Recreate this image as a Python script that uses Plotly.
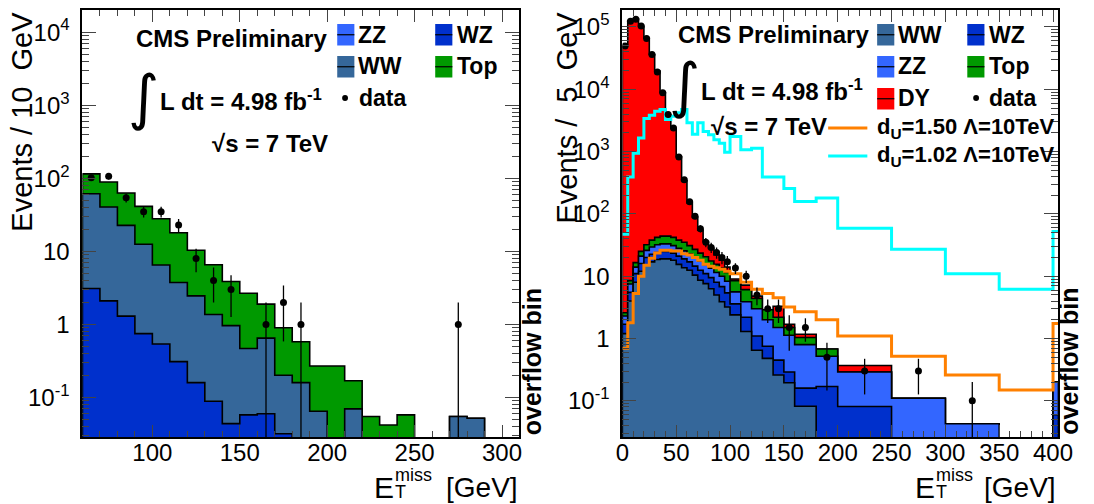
import numpy as np
import plotly.graph_objects as go

W, H = 1094, 504

# ---------------- left panel : 10 GeV bins, 60 - 310 GeV ----------------
left_edges = list(range(60, 320, 10))
left_zz = [0.0] * 25
left_wz = [3.1, 2.1, 1.3, 0.75, 0.54, 0.31, 0.16, 0.089, 0.044, 0.058, 0.06, 0.032,
           0, 0, 0, 0, 0, 0, 0, 0, 0, 0, 0, 0, 0]
left_ww = [58.5, 38.4, 21.4, 11.8, 5.96, 3.44, 2.3, 1.28, 0.92, 0.41, 0.59, 0.17,
           0.16, 0.065, 0, 0.07, 0, 0, 0, 0, 0, 0.055, 0.052, 0, 0]
left_top = [53.4, 48.5, 40.3, 28.7, 21.5, 14.2, 7.9, 5.2, 2.9, 2.2, 1.25, 0.7,
            0.42, 0.205, 0.27, 0.1, 0.055, 0.042, 0.058, 0, 0, 0, 0, 0, 0]
left_data = [102, 107, 54, 35, 35, 23, 8, 4, 3, 0, 1, 2, 1, 0, 0, 0, 0, 0, 0, 0, 0, 1, 0, 0, 0]

# ---------------- right panel : variable bins, normalised to 5 GeV ----------------
right_edges = [0, 5, 10, 15, 20, 25, 30, 35, 40, 45, 50, 55, 60, 65, 70, 75, 80, 85, 90, 95, 100,
               110, 120, 130, 140, 150, 160, 180, 200, 250, 300, 350, 400, 405]
right_ww = [1.2, 4.0, 8.0, 12, 15, 17, 18.5, 19, 19, 18, 15.5, 13.7, 12.5, 10.4, 8.6, 7.6, 6.3,
            5.0, 3.9, 3.2, 2.4, 1.3, 0.65, 0.48, 0.26, 0.195, 0.082, 0, 0, 0, 0, 0, 0]
right_wz = [0.5, 1.5, 3.0, 4, 5, 5.5, 5.5, 6, 6, 5.5, 5.5, 5.3, 4.5, 4.1, 3.9, 3.4, 3.2,
            3.0, 2.9, 2.2, 1.2, 0.9, 0.45, 0.27, 0.19, 0.095, 0.078, 0.17, 0.081, 0, 0, 0, 0.06]
right_zz = [0.6, 2.0, 3.0, 5, 6, 7, 8, 8, 8, 7.5, 7, 6.5, 6, 5.5, 5, 4.5, 4,
            3.5, 3.2, 2.9, 2.0, 1.7, 1.9, 1.25, 1.05, 0.84, 0.64, 0.35, 0.209, 0.11, 0.043, 0, 0.14]
right_top = [0.3, 1.0, 2.5, 4, 6, 8.5, 10, 11, 11, 11, 10, 9.5, 8, 7, 6, 5, 4,
             4.0, 3.5, 3.2, 2.9, 2.2, 1.4, 0.9, 0.7, 0.37, 0.24, 0.16, 0, 0, 0, 0, 0]
right_dy = [50000, 125000, 135000, 102000, 66000, 36000, 19500, 8750, 3860, 2310, 790, 305, 119,
            61, 31.5, 15.5, 10.5, 6.5, 4.5, 2.5, 0.5, 1.1, 0.4, 0, 1.1, 0.2, 0.13, 0, 0.08, 0, 0, 0, 0]
right_data = [49500, 124000, 133000, 104000, 65500, 36000, 19000, 8800, 3950, 2400, 820, 353, 157,
              92, 58, 35, 29, 24, 20, 17, 13.5, 10, 5, 3, 3, 1.5, 1.5, 0.5, 0.3, 0.3, 0.1, 0, 0]
unpart_du150 = [0.7, 1.8, 5.3, 10, 15, 19.5, 23.5, 26, 26, 25.5, 25.5, 23, 22, 20, 18, 15.5, 14.5,
                13.7, 12.9, 12, 11, 8, 6.2, 5.3, 4.5, 3.2, 2.7, 2.0, 1.1, 0.52, 0.26, 0.15, 1.75]
unpart_du102 = [47, 390, 940, 1650, 3400, 3840, 4450, 4750, 3270, 3700, 4200, 4750, 2900, 1900,
                2900, 2100, 1860, 1550, 1360, 980, 1740, 1070, 1130, 390, 390, 255, 158, 180,
                59, 27, 11, 6.2, 52]

C_WW = "#35679a"
C_WZ = "#0030cc"
C_ZZ = "#3366ff"
C_TOP = "#009900"
C_DY = "#ff0000"
C_OR = "#ff8000"
C_CY = "#00ffff"
FLOOR = 1e-4
FONT = "Liberation Sans, Arial, sans-serif"


def px(x):
    return x / W


def py(y):
    return 1 - y / H


def stack_layer(edges, vals, color, xa, ya):
    xs, ys = [edges[0]], [FLOOR]
    for i, v in enumerate(vals):
        v = max(v, FLOOR)
        xs += [edges[i], edges[i + 1]]
        ys += [v, v]
    xs.append(edges[-1])
    ys.append(FLOOR)
    return go.Scatter(x=xs, y=ys, mode="lines", fill="toself", fillcolor=color,
                      line=dict(color="black", width=1.6), xaxis=xa, yaxis=ya,
                      hoverinfo="skip", showlegend=False)


def add_stack(fig, edges, layers, xa, ya):
    # layers bottom -> top, draw cumulative from the top down
    cum = np.cumsum(np.array([l[0] for l in layers], dtype=float), axis=0)
    for i in range(len(layers) - 1, -1, -1):
        fig.add_trace(stack_layer(edges, cum[i], layers[i][1], xa, ya))


def step_line(edges, vals, color, xa, ya):
    xs = list(edges[:-1]) + [edges[-1]]
    ys = list(vals) + [vals[-1]]
    return go.Scatter(x=xs, y=ys, mode="lines", line=dict(color=color, width=3, shape="hv"),
                      xaxis=xa, yaxis=ya, hoverinfo="skip", showlegend=False)


def data_points(edges, vals, errs, xa, ya):
    cx, cy, ce = [], [], []
    for i, v in enumerate(vals):
        if v > 0:
            cx.append(0.5 * (edges[i] + edges[i + 1]))
            cy.append(v)
            ce.append(errs[i])
    return go.Scatter(x=cx, y=cy, mode="markers", marker=dict(color="black", size=7),
                      error_y=dict(type="data", array=ce, arrayminus=ce, width=0,
                                   thickness=1.3, color="black"),
                      xaxis=xa, yaxis=ya, hoverinfo="skip", showlegend=False)


fig = go.Figure()

# left
add_stack(fig, left_edges, [(left_zz, C_ZZ), (left_wz, C_WZ), (left_ww, C_WW), (left_top, C_TOP)], "x", "y")
left_err = [np.sqrt(v) for v in left_data]
fig.add_trace(data_points(left_edges, left_data, left_err, "x", "y"))

# right
add_stack(fig, right_edges, [(right_ww, C_WW), (right_wz, C_WZ), (right_zz, C_ZZ),
                             (right_top, C_TOP), (right_dy, C_DY)], "x2", "y2")
fig.add_trace(step_line(right_edges, unpart_du150, C_OR, "x2", "y2"))
fig.add_trace(step_line(right_edges, unpart_du102, C_CY, "x2", "y2"))
right_w = np.diff(right_edges)
right_err = [np.sqrt(v * 5.0 / w) for v, w in zip(right_data, right_w)]
fig.add_trace(data_points(right_edges, right_data, right_err, "x2", "y2"))


def log_axis(lo, hi, top_dec, domain, anchor):
    majors = [10.0 ** d for d in range(-1, top_dec + 1)]
    text = []
    for d in range(-1, top_dec + 1):
        if d == 0:
            text.append("1")
        elif d == 1:
            text.append("10")
        else:
            text.append("10<sup>%d</sup>" % d)
    minors = [k * 10.0 ** d for d in range(-2, top_dec + 1) for k in range(2, 10)]
    return dict(type="log", range=[lo, hi], domain=domain, anchor=anchor,
                tickvals=majors, ticktext=text, ticks="inside", ticklen=14, tickwidth=1,
                minor=dict(tickvals=minors, ticks="inside", ticklen=7, tickwidth=1),
                showline=True, linewidth=2, linecolor="black", mirror="allticks",
                showgrid=False, zeroline=False, ticklabelstandoff=6,
                tickfont=dict(family=FONT, size=24, color="black"))


def lin_axis(lo, hi, majors, minors, domain, anchor):
    return dict(range=[lo, hi], domain=domain, anchor=anchor, tickvals=majors,
                ticks="inside", ticklen=12, tickwidth=1,
                minor=dict(tickvals=minors, ticks="inside", ticklen=6, tickwidth=1),
                showline=True, linewidth=2, linecolor="black", mirror="allticks",
                showgrid=False, zeroline=False, ticklabelstandoff=-7,
                tickfont=dict(family=FONT, size=24, color="black"))


ydom = [py(437), py(9.5)]
fig.update_layout(
    width=W, height=H, autosize=False,
    margin=dict(l=0, r=0, t=0, b=0),
    paper_bgcolor="white", plot_bgcolor="white",
    showlegend=False,
    xaxis=lin_axis(60, 310, [100, 150, 200, 250, 300], list(range(60, 311, 10)),
                   [px(77), px(523)], "y"),
    yaxis=log_axis(-1.54, 4.31, 4, ydom, "x"),
    xaxis2=lin_axis(0, 405, list(range(0, 401, 50)), list(range(0, 401, 10)),
                    [px(628), px(1073)], "y2"),
    yaxis2=log_axis(-1.58, 5.28, 5, ydom, "x2"),
)

ann = []
shapes = []


def text(x, y, s, size=24, bold=True, xanchor="left", yanchor="middle", angle=0, family=FONT):
    if bold:
        s = "<b>" + s + "</b>"
    ann.append(dict(x=px(x), y=py(y), xref="paper", yref="paper", text=s, showarrow=False,
                    xanchor=xanchor, yanchor=yanchor, textangle=angle,
                    font=dict(family=family, size=size, color="black")))


def hline(x0, x1, y, color="black", width=2.0):
    shapes.append(dict(type="line", xref="paper", yref="paper", x0=px(x0), x1=px(x1),
                       y0=py(y), y1=py(y), line=dict(color=color, width=width)))


def legend_box(x0, y0, color):
    shapes.append(dict(type="rect", xref="paper", yref="paper", x0=px(x0), x1=px(x0 + 17.5),
                       y0=py(y0), y1=py(y0 + 21.5), fillcolor=color, line=dict(width=0)))
    hline(x0, x0 + 17.5, y0 + 10.75, width=1.2)


def legend_dot(x, y):
    shapes.append(dict(type="circle", xref="paper", yref="paper", x0=px(x - 3), x1=px(x + 3),
                       y0=py(y - 3), y1=py(y + 3), fillcolor="black", line=dict(width=0)))


def x_title(e_x, gev_right):
    text(e_x, 487, "E", size=30, bold=False, xanchor="center")
    text(e_x + 9, 475, "miss", size=18, bold=False)
    text(e_x + 9, 492, "T", size=18, bold=False)
    text(gev_right, 487, "[GeV]", size=28, bold=False, xanchor="right")


def lumi_block(x_int, y_int, x_l, y_l, x_s, y_s):
    text(x_int, y_int, "∫", size=60, bold=False, xanchor="center", family="DejaVu Sans")
    text(x_l, y_l, "L dt = 4.98 fb<sup>-1</sup>")
    text(x_s, y_s, "√s = 7 TeV")


# left panel texts
text(130, 39, "CMS Preliminary")
lumi_block(139, 97, 154, 100, 207, 143)
legend_box(337, 24, C_ZZ)
text(356, 35, "ZZ", size=23)
legend_box(437, 24, C_WZ)
text(457, 35, "WZ", size=23)
legend_box(337, 56, C_WW)
text(356, 66.5, "WW", size=23)
legend_box(437, 56, C_TOP)
text(457, 66.5, "Top", size=23)
legend_dot(345, 98)
text(357, 98, "data", size=23)
text(535.5, 437, "overflow bin", size=25, xanchor="center", yanchor="bottom", angle=-90)
text(15, 10, "Events / 10\u00a0\u00a0GeV", size=29, bold=False, xanchor="center", yanchor="top", angle=-90)
x_title(385, 524)

# right panel texts
text(683, 35, "CMS Preliminary")
lumi_block(691.5, 85, 706, 90, 716, 126)
legend_box(888, 24, C_WW)
text(907, 35, "WW", size=23)
legend_box(980, 24, C_WZ)
text(1000, 35, "WZ", size=23)
legend_box(888, 56, C_ZZ)
text(907, 66.5, "ZZ", size=23)
legend_box(980, 56, C_TOP)
text(1000, 66.5, "Top", size=23)
legend_box(888, 88, C_DY)
text(907, 98, "DY", size=23)
legend_dot(989, 98)
text(1000, 98, "data", size=23)
hline(838, 878, 128, C_OR, 3)
text(886, 128, "d<sub>U</sub>=1.50 Λ=10TeV", size=22)
hline(838, 878, 156, C_CY, 3)
text(886, 156, "d<sub>U</sub>=1.02 Λ=10TeV", size=22)
text(1083, 437, "overflow bin", size=25, xanchor="center", yanchor="bottom", angle=-90)
text(571, 10, "Events /\u00a0\u00a05\u00a0\u00a0GeV", size=29, bold=False, xanchor="center", yanchor="top", angle=-90)
x_title(937, 1073)

fig.update_layout(annotations=ann, shapes=shapes)

fig.write_html("out.html", config={"displayModeBar": False},
               post_script="document.body.style.margin='0';document.body.style.overflow='hidden';")
